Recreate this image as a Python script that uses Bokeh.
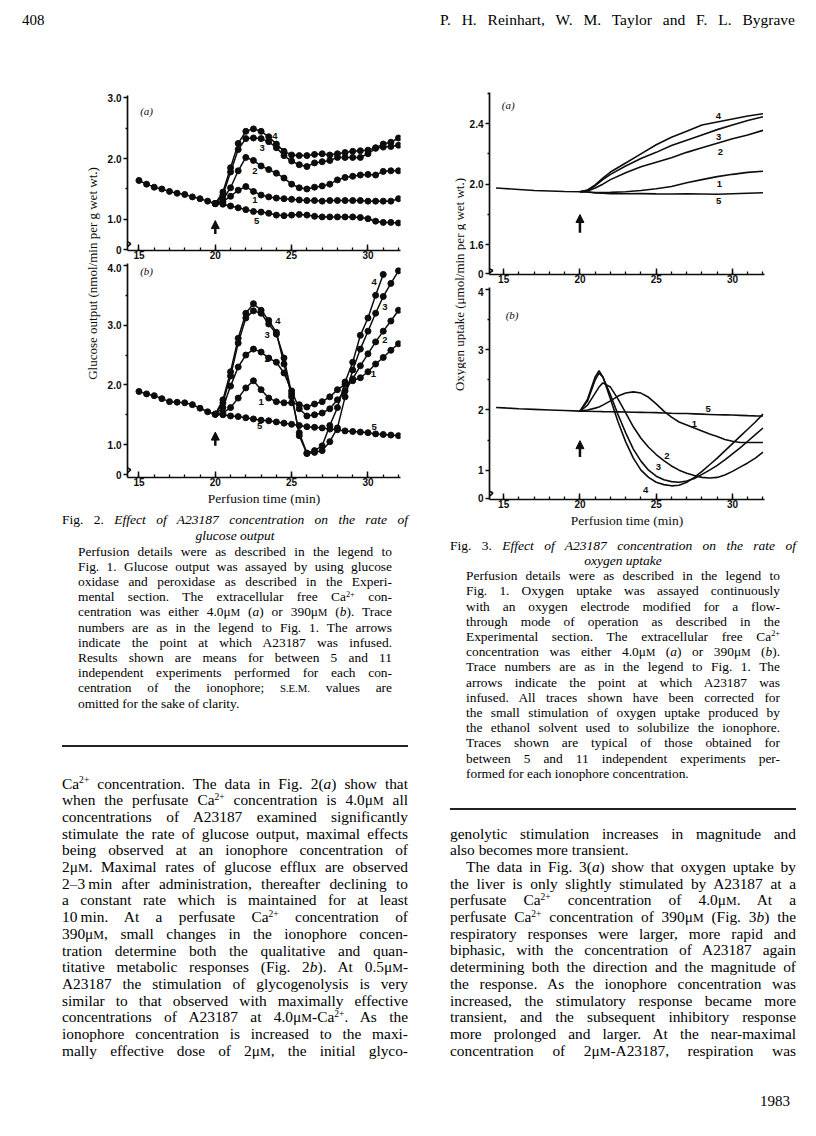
import math
from bokeh.plotting import figure
from bokeh.models import Range1d, FixedTicker, Div, Arrow, NormalHead
from bokeh.layouts import column, row
from bokeh.core.properties import value
from bokeh.embed import file_html
from bokeh.resources import INLINE

SANS = "Liberation Sans"
SERIF = "Liberation Serif"
INK = "#0d0d0d"

# ---------------- data : Fig. 2 (glucose output) ----------------
T2_PRE = [15.0, 15.5, 16.0, 16.5, 17.0, 17.5, 18.0, 18.5, 19.0, 19.5, 20.0]
T2 = [20.0, 20.5, 21.0, 21.5, 22.0, 22.5, 23.0, 23.5, 24.0, 24.5, 25.0, 25.5, 26.0,
      26.5, 27.0, 27.5, 28.0, 28.5, 29.0, 29.5, 30.0, 30.5, 31.0, 31.5, 32.0]

G2A_PRE = [1.64, 1.58, 1.53, 1.50, 1.46, 1.43, 1.41, 1.37, 1.34, 1.30, 1.26]
G2A_T5 = [1.26, 1.25, 1.22, 1.19, 1.16, 1.13, 1.12, 1.10, 1.07, 1.06, 1.07, 1.08, 1.07,
          1.05, 1.04, 1.04, 1.04, 1.04, 1.04, 1.03, 1.01, 0.97, 0.95, 0.95, 0.94]
G2A_T1 = [1.26, 1.29, 1.38, 1.48, 1.54, 1.46, 1.40, 1.37, 1.35, 1.34, 1.33, 1.32, 1.31,
          1.31, 1.30, 1.31, 1.31, 1.31, 1.31, 1.31, 1.30, 1.30, 1.30, 1.30, 1.34]
G2A_T2 = [1.26, 1.33, 1.52, 1.80, 2.02, 1.97, 1.88, 1.82, 1.76, 1.68, 1.58, 1.52, 1.50,
          1.53, 1.55, 1.58, 1.65, 1.69, 1.71, 1.73, 1.74, 1.73, 1.79, 1.80, 1.80]
G2A_T3 = [1.26, 1.40, 1.78, 2.15, 2.33, 2.34, 2.33, 2.28, 2.18, 2.05, 1.96, 1.90, 1.87,
          1.93, 1.95, 1.97, 2.02, 2.02, 2.02, 2.02, 2.08, 2.17, 2.19, 2.20, 2.22]
G2A_T4 = [1.26, 1.45, 1.85, 2.25, 2.45, 2.49, 2.45, 2.36, 2.24, 2.12, 2.06, 2.05, 2.05,
          2.07, 2.08, 2.06, 2.08, 2.10, 2.12, 2.13, 2.14, 2.18, 2.24, 2.27, 2.34]

G2B_PRE = [1.89, 1.85, 1.82, 1.77, 1.72, 1.71, 1.70, 1.67, 1.61, 1.55, 1.51]
G2B_T5 = [1.51, 1.50, 1.48, 1.47, 1.45, 1.43, 1.41, 1.40, 1.38, 1.36, 1.34, 1.32, 1.30,
          1.29, 1.28, 1.26, 1.25, 1.23, 1.22, 1.21, 1.20, 1.18, 1.17, 1.16, 1.15]
G2B_T1 = [1.51, 1.53, 1.62, 1.78, 1.95, 2.07, 1.92, 1.78, 1.72, 1.70, 1.70, 1.67, 1.63,
          1.68, 1.72, 1.80, 1.92, 2.01, 2.07, 2.12, 2.22, 2.35, 2.46, 2.58, 2.69]
G2B_T2 = [1.51, 1.62, 1.98, 2.30, 2.50, 2.60, 2.55, 2.45, 2.38, 2.20, 1.90, 1.60, 1.48,
          1.50, 1.53, 1.60, 1.75, 1.90, 2.10, 2.32, 2.52, 2.72, 2.90, 3.07, 3.25]
G2B_T3 = [1.51, 1.70, 2.15, 2.70, 3.12, 3.24, 3.20, 3.02, 2.85, 2.45, 1.85, 1.15, 0.85,
          0.87, 0.90, 1.05, 1.28, 1.80, 2.25, 2.60, 2.90, 3.20, 3.48, 3.70, 3.91]
G2B_T4 = [1.51, 1.75, 2.22, 2.78, 3.20, 3.36, 3.25, 3.08, 2.88, 2.35, 1.80, 1.20, 0.86,
          0.90, 0.98, 1.32, 1.62, 2.05, 2.38, 2.83, 3.12, 3.50, 3.85]

# ---------------- data : Fig. 3 (oxygen uptake) ----------------
T3_PRE = [14.5, 15.0, 16.0, 17.0, 18.0, 19.0, 20.0]
T3A = [20.0, 20.5, 21.0, 21.5, 22.0, 23.0, 24.0, 25.0, 26.0, 27.0, 28.0, 29.0, 30.0, 31.0, 32.0]
O3A_PRE = [1.975, 1.972, 1.965, 1.958, 1.955, 1.952, 1.950]
O3A_T5 = [1.950, 1.948, 1.942, 1.940, 1.938, 1.937, 1.938, 1.936, 1.935, 1.936, 1.935, 1.934, 1.937, 1.940, 1.943]
O3A_T1 = [1.950, 1.948, 1.945, 1.945, 1.946, 1.950, 1.958, 1.970, 1.985, 2.010, 2.030, 2.050, 2.065, 2.078, 2.085]
O3A_T2 = [1.950, 1.955, 1.975, 2.000, 2.030, 2.075, 2.115, 2.145, 2.175, 2.210, 2.240, 2.270, 2.300, 2.325, 2.355]
O3A_T3 = [1.950, 1.960, 1.990, 2.030, 2.065, 2.120, 2.170, 2.210, 2.255, 2.290, 2.325, 2.360, 2.390, 2.420, 2.445]
O3A_T4 = [1.950, 1.962, 1.995, 2.040, 2.080, 2.140, 2.200, 2.260, 2.310, 2.350, 2.390, 2.410, 2.430, 2.450, 2.465]

T3B = [20.0, 20.5, 21.0, 21.25, 21.5, 22.0, 22.5, 23.0, 23.5, 24.0, 24.5, 25.0, 25.5, 26.0,
       26.5, 27.0, 27.5, 28.0, 28.5, 29.0, 29.5, 30.0, 30.5, 31.0, 31.5, 32.0]
O3B_PRE = [2.04, 2.035, 2.02, 2.01, 2.00, 1.99, 1.98]
O3B_T5 = [1.98, 1.978, 1.975, 1.974, 1.972, 1.97, 1.968, 1.965, 1.962, 1.96, 1.958, 1.955, 1.95,
          1.945, 1.942, 1.94, 1.935, 1.93, 1.925, 1.92, 1.918, 1.915, 1.91, 1.905, 1.902, 1.90]
O3B_T1 = [1.98, 2.00, 2.03, 2.05, 2.08, 2.15, 2.23, 2.28, 2.30, 2.28, 2.21, 2.10, 1.98,
          1.88, 1.80, 1.75, 1.70, 1.65, 1.60, 1.56, 1.51, 1.48, 1.46, 1.46, 1.46, 1.46]
O3B_T2 = [1.98, 2.08, 2.28, 2.38, 2.45, 2.38, 2.18, 1.95, 1.72, 1.53, 1.38, 1.26, 1.16,
          1.07, 1.00, 0.95, 0.91, 0.88, 0.87, 0.88, 0.92, 0.98, 1.05, 1.12, 1.20, 1.30]
O3B_T3 = [1.98, 2.15, 2.50, 2.61, 2.55, 2.25, 1.92, 1.62, 1.35, 1.15, 1.00, 0.90, 0.84,
          0.81, 0.80, 0.82, 0.86, 0.93, 1.00, 1.08, 1.17, 1.27, 1.37, 1.48, 1.59, 1.70]
O3B_T4 = [1.98, 2.18, 2.55, 2.65, 2.55, 2.18, 1.80, 1.47, 1.20, 1.00, 0.88, 0.80, 0.76,
          0.74, 0.75, 0.80, 0.88, 0.98, 1.09, 1.20, 1.32, 1.44, 1.56, 1.68, 1.80, 1.93]

# ---------------- ticks / labels ----------------
X_TICKS = [15, 20, 25, 30]
X_MINOR = [15, 16, 17, 18, 19, 20, 21, 22, 23, 24, 25, 26, 27, 28, 29, 30, 31, 32]
Y2A_TICKS = {0.5: "0", 1.0: "1.0", 2.0: "2.0", 3.0: "3.0"}
Y2A_MINOR = [1.5, 2.5]
Y2B_TICKS = {0.5: "0", 1.0: "1.0", 2.0: "2.0", 3.0: "3.0", 4.0: "4.0"}
Y2B_MINOR = [1.5, 2.5, 3.5]
Y3A_TICKS = {1.41: "0", 1.6: "1.6", 2.0: "2.0", 2.4: "2.4"}
Y3A_MINOR = [1.8, 2.2, 2.6]
Y3B_TICKS = {0.53: "0", 1.0: "1", 2.0: "2", 3.0: "3", 4.0: "4"}
Y3B_MINOR = [1.5, 2.5, 3.5]

TRACE_NAMES = ["1", "2", "3", "4", "5"]
LAB2A = {"x": [22.6, 22.6, 23.07, 23.9, 22.7], "y": [1.32, 1.80, 2.18, 2.38, 0.98]}
LAB2B_L = {"x": [23.0, 23.4, 23.4, 24.1, 22.9], "y": [1.71, 2.44, 2.83, 3.07, 1.31]}
LAB2B_R = {"x": [30.35, 31.1, 31.1, 30.4, 30.4], "y": [2.18, 2.75, 3.31, 3.73, 1.29]}
LAB3A = {"x": [29.15, 29.2, 29.1, 29.08, 29.1], "y": [2.004, 2.215, 2.31, 2.45, 1.89]}
LAB3B = {"x": [27.5, 25.7, 25.15, 24.3, 28.4], "y": [1.76, 1.23, 1.05, 0.67, 2.01]}

ARROW_T = 20.0
ARR2A = (0.76, 0.98)
ARR2B = (0.98, 1.21)
ARR3A = (1.68, 1.80)
ARR3B = (1.22, 1.49)

# axis-break zigzags (y-axis jog, x-axis notch), in each panel's data units
BRK2A = ([14.25, 14.05, 14.47, 14.25], [0.72, 0.66, 0.60, 0.55], [14.33, 14.45, 14.58], [0.487, 0.32, 0.487])
BRK2B = ([14.25, 14.05, 14.47, 14.25], [0.70, 0.64, 0.58, 0.53], [14.33, 14.45, 14.58], [0.45, 0.28, 0.45])
BRK3A = ([14.07, 13.88, 14.30, 14.07], [1.47, 1.45, 1.43, 1.415], [14.30, 14.45, 14.60], [1.404, 1.34, 1.404])
BRK3B = ([14.07, 13.88, 14.30, 14.07], [0.74, 0.68, 0.62, 0.57], [14.30, 14.45, 14.60], [0.513, 0.35, 0.513])


def make_fig(width, height, xr, yr, mbl, mbr, mbt, mbb):
    p = figure(width=width, height=height, x_range=Range1d(*xr), y_range=Range1d(*yr),
               output_backend="svg", toolbar_location=None,
               min_border_left=mbl, min_border_right=mbr,
               min_border_top=mbt, min_border_bottom=mbb, margin=(0, 0, 0, 0))
    p.xgrid.visible = False
    p.ygrid.visible = False
    p.outline_line_color = None
    return p


def style_axes(p, yticks, yminor, xlabel=False):
    ax = p.xaxis[0]
    ax.ticker = FixedTicker(ticks=X_TICKS, minor_ticks=X_MINOR)
    ax.axis_line_width = 1.7
    ax.axis_line_color = INK
    ax.major_tick_in = 6
    ax.major_tick_out = 0
    ax.major_tick_line_width = 1.5
    ax.major_tick_line_color = INK
    ax.minor_tick_in = 3
    ax.minor_tick_out = 0
    ax.minor_tick_line_width = 1.3
    ax.minor_tick_line_color = INK
    ax.major_label_standoff = 0
    ax.major_label_text_font = SANS
    ax.major_label_text_font_size = "10px"
    ax.major_label_text_font_style = "bold"
    ax.major_label_text_color = INK
    if xlabel:
        ax.axis_label = "Perfusion time (min)"
        ax.axis_label_text_font = SERIF
        ax.axis_label_text_font_size = "13.5px"
        ax.axis_label_text_font_style = "normal"
        ax.axis_label_text_color = INK
        ax.axis_label_standoff = 2
    ay = p.yaxis[0]
    ay.ticker = FixedTicker(ticks=list(yticks.keys()), minor_ticks=yminor)
    ay.major_label_overrides = dict(yticks)
    ay.axis_line_width = 1.7
    ay.axis_line_color = INK
    ay.major_tick_in = 0
    ay.major_tick_out = 4
    ay.major_tick_line_width = 1.5
    ay.major_tick_line_color = INK
    ay.minor_tick_in = 0
    ay.minor_tick_out = 2
    ay.minor_tick_line_width = 1.3
    ay.minor_tick_line_color = INK
    ay.major_label_standoff = 2
    ay.major_label_text_font = SANS
    ay.major_label_text_font_size = "10px"
    ay.major_label_text_font_style = "bold"
    ay.major_label_text_color = INK


def trace_labels(p, lab):
    p.text(x=lab["x"], y=lab["y"], text=TRACE_NAMES, text_font=value(SANS),
           text_font_size="9.5px", text_font_style="bold", text_color=INK,
           text_align="center", text_baseline="middle")


def panel_label(p, x, y, txt):
    p.text(x=[x], y=[y], text=[txt], text_font=value(SERIF), text_font_size="11px",
           text_font_style="italic", text_color=INK,
           text_align="center", text_baseline="middle")


def arrow(p, ys):
    p.add_layout(Arrow(end=NormalHead(size=8, fill_color=INK, line_color=INK),
                       x_start=ARROW_T, y_start=ys[0], x_end=ARROW_T, y_end=ys[1],
                       line_width=2.5, line_color=INK))


def breaks(p, brk):
    for xs, ys in ((brk[0], brk[1]), (brk[2], brk[3])):
        for i in range(len(xs) - 1):
            p.add_layout(Arrow(end=None, start=None, x_start=xs[i], y_start=ys[i],
                               x_end=xs[i + 1], y_end=ys[i + 1],
                               line_width=1.6, line_color=INK))


def dotted(p, x, y):
    p.line(x, y, line_color=INK, line_width=1.5)
    p.scatter(x, y, size=6, color=INK)


# ---------------- Fig. 2 ----------------
XR2 = (14.25, 32.13)
f2a = make_fig(326, 225, XR2, (0.487, 3.04), 25, 28, 57, 13)
style_axes(f2a, Y2A_TICKS, Y2A_MINOR)
dotted(f2a, T2_PRE + T2[1:], G2A_PRE + G2A_T5[1:])
for ys in (G2A_T1, G2A_T2, G2A_T3, G2A_T4):
    dotted(f2a, T2, ys)
trace_labels(f2a, LAB2A)
panel_label(f2a, 15.5, 2.78, "(a)")
arrow(f2a, ARR2A)
breaks(f2a, BRK2A)

f2b = make_fig(326, 245, XR2, (0.45, 4.033), 25, 28, 0, 30)
style_axes(f2b, Y2B_TICKS, Y2B_MINOR, xlabel=True)
dotted(f2b, T2_PRE + T2[1:], G2B_PRE + G2B_T5[1:])
for ys in (G2B_T1, G2B_T2, G2B_T3):
    dotted(f2b, T2, ys)
dotted(f2b, T2[:len(G2B_T4)], G2B_T4)
trace_labels(f2b, LAB2B_L)
trace_labels(f2b, LAB2B_R)
panel_label(f2b, 15.5, 3.9, "(b)")
arrow(f2b, ARR2B)
breaks(f2b, BRK2B)

# y-axis title for Fig. 2 (spans both panels)
lab2 = figure(width=94, height=470, x_range=Range1d(8, 102), y_range=Range1d(508, 38),
              output_backend="svg", toolbar_location=None, x_axis_type=None, y_axis_type=None,
              min_border_left=0, min_border_right=0, min_border_top=0, min_border_bottom=0,
              margin=(0, 0, 0, 0))
lab2.grid.visible = False
lab2.outline_line_color = None
lab2.text(x=[92], y=[273], text=["Glucose output (nmol/min per g wet wt.)"], angle=math.pi / 2,
          text_font=value(SERIF), text_font_size="13px", text_color=INK,
          text_align="center", text_baseline="middle")

# ---------------- Fig. 3 ----------------
XR3 = (14.07, 32.1)
f3a = make_fig(342, 249, XR3, (1.404, 2.605), 23, 44, 54, 13)
style_axes(f3a, Y3A_TICKS, Y3A_MINOR)
f3a.line(T3_PRE + T3A[1:], O3A_PRE + O3A_T5[1:], line_color=INK, line_width=1.6)
for ys in (O3A_T1, O3A_T2, O3A_T3, O3A_T4):
    f3a.line(T3A, ys, line_color=INK, line_width=1.6)
trace_labels(f3a, LAB3A)
panel_label(f3a, 15.3, 2.52, "(a)")
arrow(f3a, ARR3A)
breaks(f3a, BRK3A)

f3b = make_fig(342, 243, XR3, (0.513, 4.033), 23, 44, 0, 30)
style_axes(f3b, Y3B_TICKS, Y3B_MINOR, xlabel=True)
f3b.line(T3_PRE + T3B[1:], O3B_PRE + O3B_T5[1:], line_color=INK, line_width=1.6)
for ys in (O3B_T1, O3B_T2, O3B_T3, O3B_T4):
    f3b.line(T3B, ys, line_color=INK, line_width=1.6)
trace_labels(f3b, LAB3B)
panel_label(f3b, 15.55, 3.58, "(b)")
arrow(f3b, ARR3B)
breaks(f3b, BRK3B)

lab3 = figure(width=38, height=492, x_range=Range1d(428, 466), y_range=Range1d(530, 38),
              output_backend="svg", toolbar_location=None, x_axis_type=None, y_axis_type=None,
              min_border_left=0, min_border_right=0, min_border_top=0, min_border_bottom=0,
              margin=(0, 0, 0, 0))
lab3.grid.visible = False
lab3.outline_line_color = None
lab3.text(x=[459], y=[284], text=["Oxygen uptake (\u03bcmol/min per g wet wt.)"], angle=math.pi / 2,
          text_font=value(SERIF), text_font_size="13px", text_color=INK,
          text_align="center", text_baseline="middle")

# ---------------- text blocks ----------------
UM = '\u03bc<span style="font-size:0.78em">M</span>'
CA = 'Ca<span style="font-size:0.62em;position:relative;top:-0.55em">2+</span>'
SEM = '<span style="font-size:0.8em">S.E.M.</span>'


def line(text, left, cy, width, size, lh, align="justify"):
    if align == "justify":
        css = "text-align:justify;text-align-last:justify;"
    elif align == "center":
        css = "text-align:center;"
    elif align == "right":
        css = "text-align:right;"
    else:
        css = "text-align:left;"
    top = cy - lh / 2.0
    return ('<div style="position:absolute;left:%.1fpx;top:%.1fpx;width:%.1fpx;white-space:nowrap;'
            "font-family:'Liberation Serif';font-size:%.1fpx;line-height:%.1fpx;color:#000;%s\">%s</div>"
            % (left, top, width, size, lh, css, text))


def block(w, h, parts):
    return '<div style="position:relative;width:%dpx;height:%dpx;">%s</div>' % (w, h, "".join(parts))


header_html = block(800, 30, [
    line("408", 14, 12, 40, 15, 18, "left"),
    line("P. H. Reinhart, W. M. Taylor and F. L. Bygrave", 432, 12, 355, 15.5, 18),
])
header = Div(text=header_html, width=800, height=30, margin=(0, 0, 0, 0))

CAP2 = [
    "Perfusion details were as described in the legend to",
    "Fig. 1. Glucose output was assayed by using glucose",
    "oxidase and peroxidase as described in the Experi-",
    "mental section. The extracellular free " + CA + " con-",
    "centration was either 4.0" + UM + " (<i>a</i>) or 390" + UM + " (<i>b</i>). Trace",
    "numbers are as in the legend to Fig. 1. The arrows",
    "indicate the point at which A23187 was infused.",
    "Results shown are means for between 5 and 11",
    "independent experiments performed for each con-",
    "centration of the ionophore; " + SEM + " values are",
    "omitted for the sake of clarity.",
]
BODY2 = [
    CA + " concentration. The data in Fig. 2(<i>a</i>) show that",
    "when the perfusate " + CA + " concentration is 4.0" + UM + " all",
    "concentrations of A23187 examined significantly",
    "stimulate the rate of glucose output, maximal effects",
    "being observed at an ionophore concentration of",
    "2" + UM + ". Maximal rates of glucose efflux are observed",
    "2\u20133\u2009min after administration, thereafter declining to",
    "a constant rate which is maintained for at least",
    "10\u2009min. At a perfusate " + CA + " concentration of",
    "390" + UM + ", small changes in the ionophore concen-",
    "tration determine both the qualitative and quan-",
    "titative metabolic responses (Fig. 2<i>b</i>). At 0.5" + UM + "-",
    "A23187 the stimulation of glycogenolysis is very",
    "similar to that observed with maximally effective",
    "concentrations of A23187 at 4.0" + UM + "-" + CA + ". As the",
    "ionophore concentration is increased to the maxi-",
    "mally effective dose of 2" + UM + ", the initial glyco-",
]
CAP3 = [
    "Perfusion details were as described in the legend to",
    "Fig. 1. Oxygen uptake was assayed continuously",
    "with an oxygen electrode modified for a flow-",
    "through mode of operation as described in the",
    "Experimental section. The extracellular free " + CA,
    "concentration was either 4.0" + UM + " (<i>a</i>) or 390" + UM + " (<i>b</i>).",
    "Trace numbers are as in the legend to Fig. 1. The",
    "arrows indicate the point at which A23187 was",
    "infused. All traces shown have been corrected for",
    "the small stimulation of oxygen uptake produced by",
    "the ethanol solvent used to solubilize the ionophore.",
    "Traces shown are typical of those obtained for",
    "between 5 and 11 independent experiments per-",
    "formed for each ionophore concentration.",
]
BODY3 = [
    "genolytic stimulation increases in magnitude and",
    "also becomes more transient.",
    "The data in Fig. 3(<i>a</i>) show that oxygen uptake by",
    "the liver is only slightly stimulated by A23187 at a",
    "perfusate " + CA + " concentration of 4.0" + UM + ". At a",
    "perfusate " + CA + " concentration of 390" + UM + " (Fig. 3<i>b</i>) the",
    "respiratory responses were larger, more rapid and",
    "biphasic, with the concentration of A23187 again",
    "determining both the direction and the magnitude of",
    "the response. As the ionophore concentration was",
    "increased, the stimulatory response became more",
    "transient, and the subsequent inhibitory response",
    "more prolonged and larger. At the near-maximal",
    "concentration of 2" + UM + "-A23187, respiration was",
]

CAP_SIZE, CAP_LH, CAP_STEP = 13.4, 15, 15.2
BODY_SIZE, BODY_LH, BODY_STEP = 15.4, 17, 16.7

parts2 = [
    line("Fig. 2. <i>Effect of A23187 concentration on the rate of</i>", 54, 11, 346, 13.5, 15),
    line("<i>glucose output</i>", 54, 27, 346, 13.5, 15, "center"),
]
for i, t in enumerate(CAP2):
    parts2.append(line(t, 70, 43 + CAP_STEP * i, 314, CAP_SIZE, CAP_LH,
                       "left" if i == len(CAP2) - 1 else "justify"))
parts2.append('<div style="position:absolute;left:54px;top:237px;width:346px;height:1.5px;background:#222;"></div>')
for i, t in enumerate(BODY2):
    parts2.append(line(t, 54, 275 + BODY_STEP * i, 346, BODY_SIZE, BODY_LH))
cap2 = Div(text=block(420, 620, parts2), width=420, height=620, margin=(0, 0, 0, 0))

parts3 = [
    line("Fig. 3. <i>Effect of A23187 concentration on the rate of</i>", 22, 15.5, 346, 13.5, 15),
    line("<i>oxygen uptake</i>", 22, 30.5, 346, 13.5, 15, "center"),
]
for i, t in enumerate(CAP3):
    parts3.append(line(t, 38, 45.7 + CAP_STEP * i, 314, CAP_SIZE, CAP_LH,
                       "left" if i == len(CAP3) - 1 else "justify"))
parts3.append('<div style="position:absolute;left:22px;top:278px;width:346px;height:1.5px;background:#222;"></div>')
for i, t in enumerate(BODY3):
    left, width, al = 22, 346, "justify"
    if i == 1:
        al = "left"
    if i == 2:
        left, width = 38, 330
    parts3.append(line(t, left, 303 + BODY_STEP * i, width, BODY_SIZE, BODY_LH, al))
parts3.append(line("1983", 312, 571, 50, 15, 18, "right"))
cap3 = Div(text=block(380, 598, parts3), width=380, height=598, margin=(0, 0, 0, 0))

left_col = column(row(lab2, column(f2a, f2b, spacing=0), spacing=0), cap2, spacing=0)
right_col = column(row(lab3, column(f3a, f3b, spacing=0), spacing=0), cap3, spacing=0)
page = column(header, row(left_col, right_col, spacing=0), spacing=0, margin=(8, 0, 0, 8))

open("out.html", "w").write(file_html(page, INLINE, title="Fig. 2 and Fig. 3"))
